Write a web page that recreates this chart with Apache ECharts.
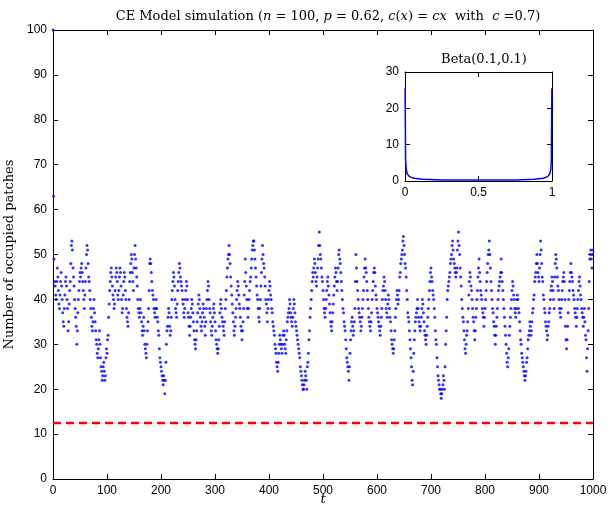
<!DOCTYPE html>
<html><head><meta charset="utf-8">
<script src="https://cdn.jsdelivr.net/npm/echarts@6/dist/echarts.min.js"></script>
<style>html,body{margin:0;padding:0;background:#fff}#c{width:608px;height:508px}</style>
</head><body><div id="c"></div><script>
// occupied patches, t = 0..1000
const occupied = [100,
63,49,44,43,41,40,44,47,45,42,
39,38,41,44,46,43,40,37,35,34,
38,41,44,45,43,40,38,33,35,39,
42,44,48,52,53,51,47,45,43,40,
38,36,34,30,33,37,40,42,44,46,
45,47,48,46,44,42,40,38,41,44,
47,50,52,51,48,45,44,42,40,38,
36,34,33,35,38,40,37,35,33,31,
30,28,27,29,31,33,30,27,25,24,
22,23,25,26,24,22,23,27,29,28,
31,32,36,39,42,44,46,47,45,43,
41,40,38,39,42,45,47,46,44,41,
40,42,45,47,46,43,40,37,38,41,
44,46,45,42,40,38,36,35,34,37,
40,44,46,48,50,49,46,44,42,47,
50,52,49,47,45,43,40,38,37,36,
38,40,37,35,33,32,34,36,33,30,
29,28,27,30,33,35,38,42,48,49,
48,46,44,42,41,40,38,37,36,38,
40,38,36,35,33,32,29,27,26,25,
24,23,22,21,23,22,19,22,26,30,
33,34,36,38,37,34,32,33,36,40,
42,44,46,45,43,40,38,37,36,39,
42,44,46,48,47,45,44,43,42,40,
39,37,36,38,40,42,44,43,40,37,
36,34,32,34,36,38,40,39,37,35,
33,31,30,29,31,33,35,37,39,41,
40,38,36,34,33,35,37,39,38,36,
34,32,35,38,40,42,44,43,40,38,
37,35,33,32,34,36,38,39,37,35,
33,31,30,29,28,29,31,34,37,39,
40,38,36,35,34,33,32,35,38,40,
42,45,47,49,50,52,50,48,45,43,
41,39,37,35,33,32,34,36,38,40,
42,44,43,41,39,38,36,34,33,31,
33,35,38,41,44,49,46,43,40,38,
36,38,40,42,44,45,47,49,51,52,
53,53,51,49,47,45,43,41,40,38,
36,35,38,40,43,46,49,52,50,48,
47,45,43,40,39,37,35,38,40,42,
44,43,41,40,38,37,35,34,33,32,
30,29,28,26,25,24,26,28,30,32,
31,30,29,28,30,32,33,32,30,29,
28,31,33,35,36,37,38,40,39,37,
36,35,34,36,38,40,39,37,35,34,
33,32,31,30,29,28,27,25,24,23,
22,21,20,20,21,22,24,23,22,20,
25,26,28,31,33,36,38,40,42,44,
46,45,47,49,48,46,44,43,45,47,
49,52,55,52,50,49,47,45,44,42,
40,38,37,36,38,40,42,44,45,43,
41,39,37,35,34,33,35,37,39,41,
43,45,47,46,44,42,44,47,50,51,
49,48,46,44,42,40,38,37,35,34,
33,31,29,27,26,25,24,22,25,28,
31,33,35,36,34,32,33,35,38,44,
50,47,44,42,40,38,37,36,35,33,
34,36,38,40,42,45,47,49,47,46,
44,42,40,38,36,35,34,33,35,37,
40,42,44,46,47,46,43,41,40,38,
37,36,35,34,33,32,34,36,38,40,
42,43,45,44,42,40,38,37,36,39,
41,40,38,36,35,33,31,30,29,28,
29,31,33,36,38,40,42,41,39,40,
42,45,46,48,49,50,51,53,54,52,
50,48,47,45,42,40,37,36,35,33,
31,29,27,25,22,21,24,28,31,33,
35,36,37,38,40,38,36,35,34,33,
34,36,38,40,39,37,35,33,32,31,
30,32,34,36,38,40,42,44,46,47,
45,44,42,41,40,38,36,33,31,30,
27,25,23,22,21,20,20,19,18,19,
20,21,23,22,20,25,30,33,36,40,
42,43,44,45,46,48,49,50,52,53,
51,49,48,47,46,45,46,47,51,53,
55,52,50,47,45,43,40,38,36,35,
33,31,29,28,30,32,33,35,38,41,
44,46,45,43,42,40,38,36,35,33,
31,33,36,38,40,42,45,47,49,46,
44,42,41,40,38,37,36,34,36,38,
40,42,44,46,48,50,51,53,50,47,
44,42,40,38,37,35,34,32,30,32,
34,36,38,40,42,43,44,45,46,49,
46,44,42,40,38,36,34,32,30,28,
26,25,27,29,32,34,36,38,40,42,
44,43,41,40,38,37,36,38,40,41,
40,38,37,35,33,31,30,28,27,26,
25,24,23,22,23,24,26,27,29,31,
32,33,35,34,32,33,35,37,38,40,
41,44,45,46,48,50,48,46,45,44,
47,50,53,51,48,45,44,41,40,38,
37,35,34,33,31,32,34,35,37,38,
40,42,43,45,44,42,40,38,45,48,
50,49,47,45,43,42,40,38,37,36,
38,40,42,44,45,46,44,40,34,31,
29,31,34,37,40,42,44,46,48,46,
45,44,42,41,40,38,37,36,34,36,
38,40,42,44,45,43,41,40,38,37,
36,34,36,38,35,32,31,27,24,29,
33,38,44,49,50,51,49,47,50,51
];
const thresholdX = [0, 1000];
const thresholdY = [12.5, 12.5];
// Beta(0.1,0.1) density
const betaX = [0.001,0.004,0.008,0.015,0.03,0.06,0.12,0.25,0.5,0.75,0.88,0.94,0.97,0.985,0.992,0.996,0.999];
const betaY = [25.5,6,3.2,2,1.2,0.75,0.45,0.3,0.25,0.3,0.45,0.75,1.2,2,3.2,6,25.5];

const scatterData = occupied.map((v, i) => [i, v]);
const lineData = thresholdX.map((x, i) => [x, thresholdY[i]]);
const betaData = betaX.map((x, i) => [x, betaY[i]]);

const FONT = 'Liberation Sans';
const SERIF = 'DejaVu Serif';
function ax(extra, showLabel) {
  return Object.assign({
    type: 'value',
    axisLine: { show: true, onZero: false, lineStyle: { color: '#000', width: 1 } },
    axisTick: { show: true, inside: true, length: 5, lineStyle: { color: '#000', width: 1 } },
    splitLine: { show: false },
    axisLabel: { show: showLabel, color: '#000', fontFamily: FONT, fontSize: 12, margin: 6,
                 formatter: v => String(v) }
  }, extra);
}

const chart = echarts.init(document.getElementById('c'), null, { renderer: 'canvas' });
chart.setOption({
  animation: false,
  backgroundColor: '#fff',
  title: [
    {
      text: '{r|CE Model simulation (}{i|n}{r| = 100, }{i|p}{r| = 0.62, }{i|c}{r|(}{i|x}{r|) = }{i|cx}{r|  with  }{i|c}{r| =0.7)}',
      left: 323, top: 5, textAlign: 'center',
      textStyle: { fontWeight: 'normal', rich: {
        r: { fontFamily: SERIF, fontSize: 13, fontWeight: 'normal', color: '#000' },
        i: { fontFamily: SERIF, fontSize: 13, fontWeight: 'normal', fontStyle: 'italic', color: '#000' }
      } }
    },
    {
      text: 'Beta(0.1,0.1)', left: 479, top: 48, textAlign: 'center',
      textStyle: { fontFamily: SERIF, fontSize: 13, fontWeight: 'normal', color: '#000' }
    }
  ],
  grid: [
    { left: 53, top: 30, width: 540, height: 449, containLabel: false, outerBoundsMode: 'none' },
    { left: 405, top: 72, width: 147, height: 109, show: true, backgroundColor: '#fff', borderWidth: 0,
      containLabel: false, outerBoundsMode: 'none' }
  ],
  xAxis: [
    ax({ gridIndex: 0, min: 0, max: 1000, interval: 100, position: 'bottom',
         name: 't', nameLocation: 'middle', nameGap: 14, nameMoveOverlap: false,
         nameTextStyle: { fontFamily: SERIF, fontStyle: 'italic', fontSize: 13, color: '#000' } }, true),
    ax({ gridIndex: 0, min: 0, max: 1000, interval: 100, position: 'top' }, false),
    ax({ gridIndex: 1, min: 0, max: 1, interval: 0.5, position: 'bottom' }, true),
    ax({ gridIndex: 1, min: 0, max: 1, interval: 0.5, position: 'top' }, false)
  ],
  yAxis: [
    ax({ gridIndex: 0, min: 0, max: 100, interval: 10, position: 'left',
         name: 'Number of occupied patches', nameLocation: 'middle', nameGap: 30, nameRotate: 90,
         nameTextStyle: { fontFamily: SERIF, fontSize: 13, color: '#000' } }, true),
    ax({ gridIndex: 0, min: 0, max: 100, interval: 10, position: 'right' }, false),
    ax({ gridIndex: 1, min: 0, max: 30, interval: 10, position: 'left' }, true),
    ax({ gridIndex: 1, min: 0, max: 30, interval: 10, position: 'right' }, false)
  ],
  series: [
    { type: 'scatter', xAxisIndex: 0, yAxisIndex: 0, data: scatterData,
      symbol: 'circle', symbolSize: 3, itemStyle: { color: '#0000ff' }, z: 3 },
    { type: 'line', xAxisIndex: 0, yAxisIndex: 0, data: lineData, showSymbol: false,
      lineStyle: { color: '#ff0000', width: 2.5, type: [8, 5] }, z: 2 },
    { type: 'line', xAxisIndex: 2, yAxisIndex: 2, data: betaData, showSymbol: false,
      lineStyle: { color: '#0000ff', width: 1.5 }, z: 5 }
  ]
});
</script></body></html>
